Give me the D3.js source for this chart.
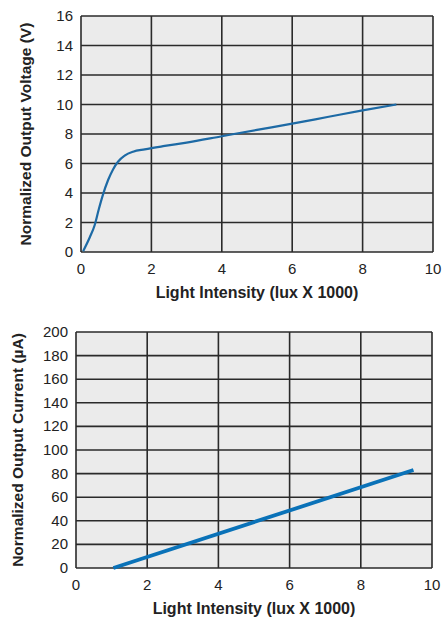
<!DOCTYPE html>
<html>
<head>
<meta charset="utf-8">
<script src="https://cdn.jsdelivr.net/npm/d3@7"></script>
<style>
  body { margin: 0; background: #fff; }
  text { font-family: "Liberation Sans", Arial, sans-serif; fill: #222; }
</style>
</head>
<body>
<div id="chart"></div>
<script>
var w = 443;
var h = 617;

// x ticks shared by both charts
var xTicks = [0, 2, 4, 6, 8, 10];

// top chart: voltage vs light intensity
var voltTicks = [0, 2, 4, 6, 8, 10, 12, 14, 16];
var voltX = [0.06, 0.25, 0.39, 0.5, 0.62, 0.77, 0.91, 1.05, 1.24, 1.48, 1.81, 2.38, 3.0, 4.0, 5.0, 6.0, 7.0, 8.0, 8.96];
var voltY = [0.05, 1.0, 1.83, 2.85, 3.86, 4.88, 5.6, 6.12, 6.53, 6.8, 6.96, 7.19, 7.42, 7.85, 8.28, 8.7, 9.15, 9.6, 10.0];

// bottom chart: current vs light intensity
var currTicks = [0, 20, 40, 60, 80, 100, 120, 140, 160, 180, 200];
var currX = [1.05, 9.48];
var currY = [0, 83];

var svg = d3.select("#chart")
        .append("svg")
        .attr("width", w)
        .attr("height", h);

function drawPanel(box, yTicks, xs, ys, yTitle, lineWidth, lineColor) {
    var x = d3.scaleLinear().domain([0, 10]).range([box.left, box.right]);
    var y = d3.scaleLinear().domain([yTicks[0], yTicks[yTicks.length - 1]]).range([box.bottom, box.top]);

    var g = svg.append("g");

    // plot background
    g.append("rect")
        .attr("x", box.left)
        .attr("y", box.top)
        .attr("width", box.right - box.left)
        .attr("height", box.bottom - box.top)
        .attr("fill", "#ebebeb");

    // grid lines
    g.selectAll("line.h")
        .data(yTicks)
        .enter()
        .append("line")
        .attr("x1", box.left)
        .attr("x2", box.right)
        .attr("y1", function(d) { return y(d); })
        .attr("y2", function(d) { return y(d); })
        .attr("stroke", "#2a2a2a")
        .attr("stroke-width", 1.6);

    g.selectAll("line.v")
        .data(xTicks)
        .enter()
        .append("line")
        .attr("y1", box.top)
        .attr("y2", box.bottom)
        .attr("x1", function(d) { return x(d); })
        .attr("x2", function(d) { return x(d); })
        .attr("stroke", "#2a2a2a")
        .attr("stroke-width", 1.6);

    // data line
    var pts = xs.map(function(v, i) { return [v, ys[i]]; });
    var line = d3.line()
        .x(function(d) { return x(d[0]); })
        .y(function(d) { return y(d[1]); })
        .curve(d3.curveMonotoneX);
    g.append("path")
        .attr("d", line(pts))
        .attr("fill", "none")
        .attr("stroke", lineColor)
        .attr("stroke-width", lineWidth)
        .attr("stroke-linecap", "butt");

    // tick labels
    g.selectAll("text.yt")
        .data(yTicks)
        .enter()
        .append("text")
        .attr("x", box.left - 8)
        .attr("y", function(d) { return y(d) + 5; })
        .attr("text-anchor", "end")
        .attr("font-size", 15)
        .attr("fill", "#333")
        .text(function(d) { return d; });

    g.selectAll("text.xt")
        .data(xTicks)
        .enter()
        .append("text")
        .attr("x", function(d) { return x(d); })
        .attr("y", box.bottom + 22)
        .attr("text-anchor", "middle")
        .attr("font-size", 15)
        .attr("fill", "#333")
        .text(function(d) { return d; });

    // axis titles
    g.append("text")
        .attr("x", (box.left + box.right) / 2)
        .attr("y", box.bottom + 46)
        .attr("text-anchor", "middle")
        .attr("font-size", 16)
        .attr("font-weight", "bold")
        .text("Light Intensity (lux X 1000)");

    g.append("text")
        .attr("transform", "translate(" + box.titleX + "," + (box.top + box.bottom) / 2 + ") rotate(-90)")
        .attr("text-anchor", "middle")
        .attr("font-size", 15.5)
        .attr("font-weight", "bold")
        .text(yTitle);
}

drawPanel({left: 81, right: 433, top: 16, bottom: 252, titleX: 31},
    voltTicks, voltX, voltY, "Normalized Output Voltage (V)", 2.2, "#1d6aa5");

drawPanel({left: 76, right: 432, top: 332, bottom: 568, titleX: 23},
    currTicks, currX, currY, "Normalized Output Current (\u00b5A)", 3.8, "#0a72b8");
</script>
</body>
</html>
